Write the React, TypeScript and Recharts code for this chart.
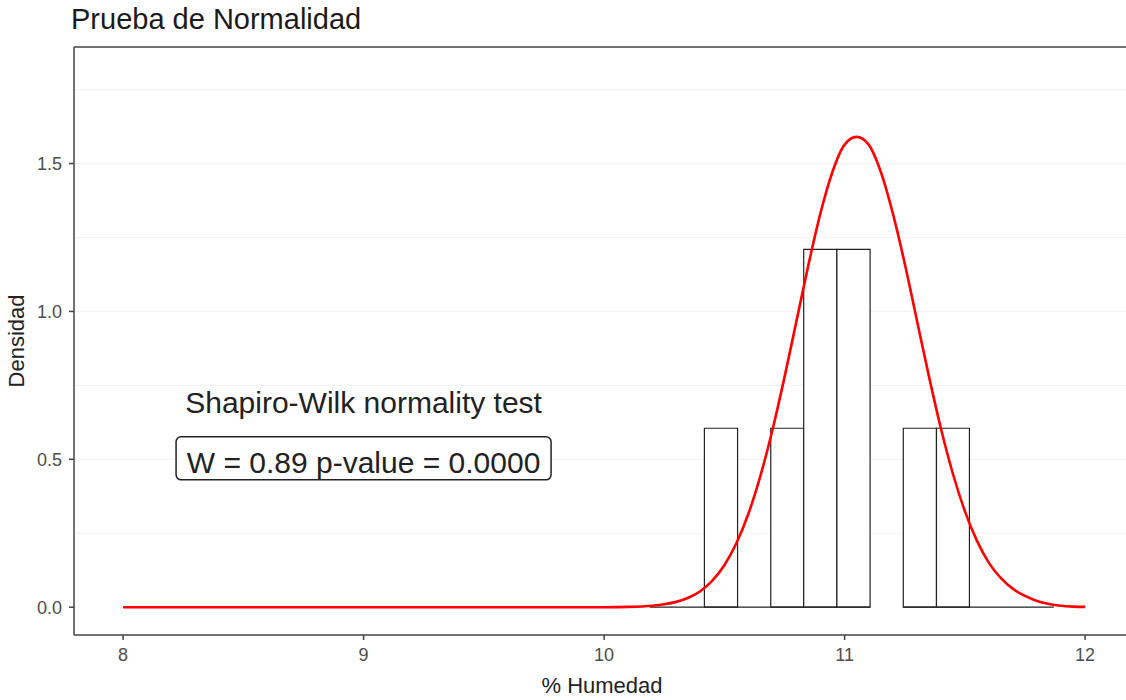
import { ComposedChart, Line, XAxis, YAxis, CartesianGrid, ReferenceArea, ReferenceLine, ReferenceDot, Label } from "recharts";

// density curve
const curveX = [8, 8.5, 9, 9.5, 10, 10.1, 10.2, 10.25, 10.3, 10.35, 10.4, 10.45, 10.5, 10.55, 10.6, 10.65, 10.7, 10.75, 10.8, 10.85, 10.9, 10.95, 11.0, 11.05, 11.1, 11.15, 11.2, 11.25, 11.3, 11.35, 11.4, 11.45, 11.5, 11.55, 11.6, 11.65, 11.7, 11.75, 11.8, 11.85, 11.9, 11.95, 12];
const curveY = [0, 0, 0, 0, 0, 0.001, 0.005, 0.01, 0.018, 0.032, 0.054, 0.09, 0.142, 0.216, 0.316, 0.444, 0.599, 0.777, 0.968, 1.159, 1.333, 1.473, 1.564, 1.59, 1.564, 1.473, 1.333, 1.162, 0.972, 0.783, 0.606, 0.452, 0.325, 0.225, 0.15, 0.098, 0.062, 0.038, 0.021, 0.011, 0.005, 0.002, 0.001];

// histogram bins
const binStart = [10.417, 10.693, 10.83, 10.968, 11.244, 11.382];
const binEnd = [10.555, 10.83, 10.968, 11.106, 11.382, 11.519];
const binHeight = [0.605, 0.605, 1.21, 1.21, 0.605, 0.605];
const baseFrom = [10.19, 11.244];
const baseTo = [11.106, 11.87];

const xTicks = [8, 9, 10, 11, 12];
const yTicks = [0, 0.5, 1, 1.5];
const gridY = [0.25, 0.5, 0.75, 1, 1.25, 1.5, 1.75];

const title = "Prueba de Normalidad";
const testName = "Shapiro-Wilk normality test";
const testResult = "W = 0.89 p-value = 0.0000";

const data = curveX.map((x, i) => ({ x, y: curveY[i] }));

const FONT = "'Liberation Sans', Arial, sans-serif";
const AXIS = "#444";
const X_DOMAIN: [number, number] = [7.796, 12.17];
const Y_DOMAIN: [number, number] = [-0.094, 1.894];

export default function App() {
  return (
    <div style={{ position: "absolute", left: 0, top: 0, width: 1126, height: 700, background: "#fff", fontFamily: FONT }}>
      <div style={{ position: "absolute", left: 71, top: 5, fontSize: 29, lineHeight: "29px", color: "#1a1a1a", whiteSpace: "nowrap" }}>
        {title}
      </div>
      <ComposedChart width={1126} height={700} data={data} margin={{ top: 47, right: 0, bottom: 0, left: 0 }}>
        <CartesianGrid horizontal vertical={false} horizontalValues={gridY} stroke="#f3f3f3" strokeWidth={1.2} />
        <XAxis
          dataKey="x"
          type="number"
          domain={X_DOMAIN}
          ticks={xTicks}
          allowDataOverflow
          height={65}
          tickSize={5}
          tickMargin={8}
          stroke={AXIS}
          strokeWidth={1.5}
          tick={{ fill: "#4d4d4d", fontSize: 18, fontFamily: FONT }}
          tickFormatter={(v: number) => String(v)}
        >
          <Label
            content={(p: any) => {
              const vb = p.viewBox || { x: 74, width: 1052 };
              return (
                <text x={vb.x + vb.width / 2 + 2} y={693} textAnchor="middle" fontSize={22} fill="#222" fontFamily={FONT}>
                  % Humedad
                </text>
              );
            }}
          />
        </XAxis>
        <YAxis
          type="number"
          domain={Y_DOMAIN}
          ticks={yTicks}
          allowDataOverflow
          width={74}
          tickSize={5}
          tickMargin={7}
          stroke={AXIS}
          strokeWidth={1.5}
          tick={{ fill: "#4d4d4d", fontSize: 18, fontFamily: FONT }}
          tickFormatter={(v: number) => v.toFixed(1)}
        >
          <Label
            content={(p: any) => {
              const vb = p.viewBox || { y: 47, height: 588 };
              const cy = vb.y + vb.height / 2;
              return (
                <text x={23.5} y={cy} transform={`rotate(-90, 23.5, ${cy})`} textAnchor="middle" fontSize={22} fill="#222" fontFamily={FONT}>
                  Densidad
                </text>
              );
            }}
          />
        </YAxis>
        <ReferenceLine y={Y_DOMAIN[1]} stroke={AXIS} strokeWidth={1.5} />
        {baseFrom.map((a, i) => (
          <ReferenceLine
            key={"b" + i}
            segment={[{ x: a, y: 0 }, { x: baseTo[i], y: 0 }]}
            stroke="#222"
            strokeWidth={1.2}
          />
        ))}
        {binStart.map((a, i) => (
          <ReferenceArea
            key={"h" + i}
            x1={a}
            x2={binEnd[i]}
            y1={0}
            y2={binHeight[i]}
            fill="#fff"
            fillOpacity={1}
            stroke="#222"
            strokeWidth={1.2}
            strokeOpacity={1}
          />
        ))}
        <Line
          dataKey="y"
          type="monotone"
          stroke="#ff0000"
          strokeWidth={2.6}
          dot={false}
          activeDot={false}
          isAnimationActive={false}
        />
        <ReferenceDot
          x={9}
          y={0.7}
          r={0}
          shape={(p: any) => (
            <text x={p.cx} y={p.cy + 13} textAnchor="middle" fontSize={30} fill="#222" fontFamily={FONT}>
              {testName}
            </text>
          )}
        />
        <ReferenceDot
          x={9}
          y={0.5}
          r={0}
          shape={(p: any) => (
            <g>
              <rect x={p.cx - 187.5} y={p.cy - 22.5} width={375} height={43} rx={5} ry={5} fill="#fff" stroke="#222" strokeWidth={1.5} />
              <text x={p.cx} y={p.cy + 13.5} textAnchor="middle" fontSize={30} fill="#222" fontFamily={FONT}>
                {testResult}
              </text>
            </g>
          )}
        />
      </ComposedChart>
    </div>
  );
}
